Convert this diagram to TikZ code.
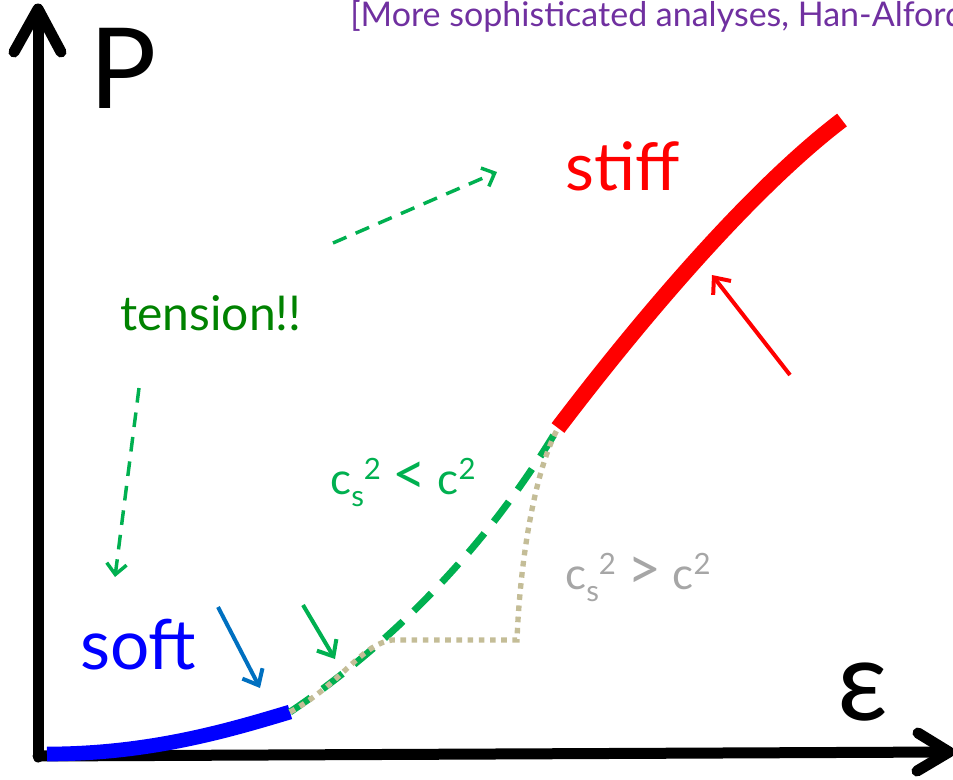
\documentclass[tikz,border=0pt]{standalone}
\usepackage{fontspec}
\setmainfont{Lato}
\usetikzlibrary{arrows.meta}
\definecolor{refpurple}{HTML}{7030A0}
\definecolor{lightgreen}{HTML}{00B050}
\definecolor{darkgreen}{HTML}{008200}
\definecolor{midblue}{HTML}{0070C0}
\definecolor{tan}{HTML}{C4BD97}
\definecolor{softgray}{HTML}{A6A6A6}
% subscript s and superscript 2 for the sound-speed labels
\newcommand{\csq}{c\raisebox{-9pt}{\fontsize{22pt}{22pt}\selectfont s}\raisebox{11pt}{\fontsize{22pt}{22pt}\selectfont 2}}
\newcommand{\csqq}{c\raisebox{11pt}{\fontsize{22pt}{22pt}\selectfont 2}}
\newcommand{\bigrel}[1]{{\fontsize{44pt}{44pt}\selectfont #1}}
\tikzset{
  lbl/.style={inner sep=0pt, anchor=base west},
  axis/.style={line width=8.25pt, line cap=round, line join=round},
  pointer/.style={line width=3pt, -{Straight Barb[length=10pt, width=17pt, line width=3pt]}},
  hint/.style={line width=2.6pt, dash pattern=on 11pt off 7.5pt,
    -{Straight Barb[length=8pt, width=15pt, line width=2.6pt]}},
}
\begin{document}
\begin{tikzpicture}[x=0.75pt, y=-0.75pt]
\useasboundingbox (0,0) rectangle (953,779);
\clip (0,0) rectangle (953,779);

% axes
\draw[axis] (38,757) -- (38,10);
\draw[axis] (14,52) -- (38,9) -- (61,52);
\draw[axis] (38,756) -- (947,752);
\draw[axis] (918,733) -- (949,752) -- (917,771);
\node[lbl, font=\fontsize{84pt}{84pt}\selectfont] (pl) at (89,108) {P};
\node[lbl, font=\fontsize{84pt}{84pt}\selectfont] (el) at (837,720) {ε};

% reference note
\node[lbl, text=refpurple, font=\fontsize{25.5pt}{25.5pt}\selectfont] (note) at (350,26)
  {[More sophisticated analyses, Han-Alford};

% curve points
\coordinate (s0) at (47,754);
\coordinate (s1) at (290,712);
\coordinate (k1) at (392,640);
\coordinate (k2) at (517,640);
\coordinate (h0) at (558,428);
\coordinate (h1) at (842,120);

% soft branch
\draw[blue, line width=11pt] (s0) .. controls (150,754) and (230,730) .. (s1);
% causal interpolation
\draw[lightgreen, line width=5.25pt, dash pattern=on 18.75pt off 11.25pt]
  (s1) .. controls (360,665) and (470,575) .. (h0);
% acausal interpolation
\draw[tan, line width=4pt, dash pattern=on 4.2pt off 4.2pt]
  (s1) .. controls (340,685) and (360,645) .. (k1) -- (k2)
  .. controls (520,560) and (535,470) .. (h0);
% stiff branch
\draw[red, line width=12pt] (h0) .. controls (640,320) and (750,190) .. (h1);

% labels
\node[lbl, text=blue, font=\fontsize{52pt}{52pt}\selectfont] (soft) at (80,669) {soft};
\node[lbl, text=red, font=\fontsize{50pt}{50pt}\selectfont] (stiff) at (565,190) {stiff};
\node[lbl, text=darkgreen, font=\fontsize{36pt}{36pt}\selectfont] (tens) at (120,330) {tension!!};
\node[lbl, text=lightgreen, font=\fontsize{33pt}{33pt}\selectfont] (lt) at (330,494)
  {\csq\ \bigrel{<} \csqq};
\node[lbl, text=softgray, font=\fontsize{33pt}{33pt}\selectfont] (gt) at (565,589)
  {\csq\ \bigrel{>} \csqq};

% pointers
\coordinate (ra) at (790,375);
\coordinate (rb) at (712,275);
\draw[pointer, red] (ra) -- (rb);
\coordinate (ba) at (218,607);
\coordinate (bb) at (260,688);
\draw[pointer, midblue] (ba) -- (bb);
\coordinate (ga) at (303,605);
\coordinate (gb) at (335,659);
\draw[pointer, lightgreen] (ga) -- (gb);

% tension hints
\coordinate (ta) at (333,243);
\coordinate (tb) at (497,172);
\draw[hint, lightgreen] (ta) -- (tb);
\coordinate (tc) at (139,388);
\coordinate (td) at (115,577);
\draw[hint, lightgreen] (tc) -- (td);
\end{tikzpicture}
\end{document}
